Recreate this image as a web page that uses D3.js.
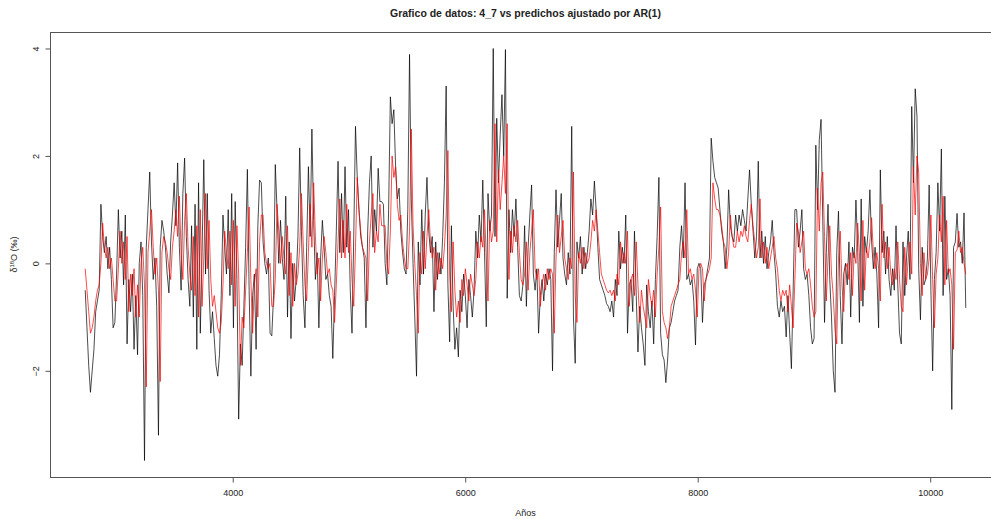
<!DOCTYPE html>
<meta charset="utf-8">
<style>
  body { margin: 0; background: #fff; }
  text { font-family: "Liberation Sans", Arial, sans-serif; fill: #222; }
  .serie { fill: none; stroke-width: 0.7px; stroke-linejoin: round; }
</style>
<body>
<div id="grafico"></div>
<script src="https://d3js.org/d3.v7.min.js"></script>
<script>
// años: serie regular desde 2731, cada 15 años
var anioInicio = 2731, paso = 15;

// datos observados del registro 4_7 (d18O, permil)
var observado = [
  -0.5,-1.2,-1.9,-2.4,-2.0,-1.6,-0.9,-0.7,-0.5,1.1,
  0.5,0.2,0.5,-0.1,0.3,-0.3,-1.2,-1.1,-0.2,1.0,
  0.1,0.6,-0.4,0.9,-1.5,-0.3,-0.9,-0.2,-1.6,-0.6,
  -1.7,0.0,0.4,-0.6,-3.67,0.3,1.0,1.7,0.4,-0.3,
  0.1,-0.8,-3.2,0.3,0.8,0.6,0.3,-0.2,-0.55,0.4,
  0.9,1.5,0.7,1.87,0.3,-0.5,1.3,1.96,0.5,-0.3,
  -0.8,0.7,-1.0,1.1,-1.6,1.5,-1.3,0.2,1.93,-0.2,
  1.3,-0.5,-1.3,-0.9,-1.4,-1.9,-2.1,-1.7,-0.6,0.9,
  0.3,-0.2,1.0,-0.6,1.3,-1.2,1.15,-0.3,-2.9,
  -1.5,-1.9,-0.8,0.3,1.75,-0.5,-2.1,-0.6,-0.2,-1.6,
  0.7,1.55,1.5,0.4,0.0,-0.2,0.1,-1.3,-1.35,-0.6,
  1.84,1.0,0.0,0.8,0.1,-0.3,1.25,-1.0,0.4,-1.4,
  0.0,-0.7,-0.3,0.5,2.15,0.6,-0.6,-1.2,0.3,1.8,
  0.5,2.5,0.8,-0.3,0.2,-1.2,0.1,0.8,0.3,-0.3,
  -0.2,-0.6,-0.8,-1.77,-0.6,0.6,1.9,0.2,1.3,0.2,
  1.8,0.3,1.0,-0.5,-1.3,0.5,2.55,1.6,1.0,0.5,
  0.3,0.1,-1.2,0.6,1.5,2.0,0.3,1.0,0.6,1.77,
  1.15,1.15,1.1,0.0,-0.4,1.0,3.1,2.6,2.86,1.8,
  1.2,1.4,0.6,0.2,-0.1,-0.2,1.0,3.89,1.2,0.0,
  -1.0,-2.1,0.4,-0.4,1.0,-0.2,0.9,
  1.6,0.6,0.2,0.5,-0.9,0.4,-0.3,0.2,-0.2,0.5,
  1.5,3.3,-0.4,-1.46,0.7,-0.8,-1.6,-1.2,-1.74,-0.5,
  -0.9,-0.2,-0.6,-1.2,-0.3,-0.6,-1.0,-0.5,0.6,0.1,
  0.9,0.4,1.55,0.2,-1.18,1.3,0.6,0.9,4.0,0.5,
  2.7,1.5,2.4,3.14,2.0,3.98,-0.65,1.0,0.2,1.0,
  0.5,1.2,0.3,-0.6,-0.7,-0.4,0.7,-0.8,0.3,0.9,
  1.46,-0.2,-0.5,-0.1,-1.3,-0.6,-0.3,-0.7,-0.2,-0.4,
  -0.1,-0.3,-2.0,0.2,1.37,0.3,0.8,1.3,0.1,-0.2,
  -0.4,0.2,-0.2,2.55,-1.0,-1.86,0.4,0.1,0.5,-0.2,
  0.3,-0.1,0.2,0.6,1.2,0.9,1.53,1.0,0.3,-0.3,
  -0.4,-0.5,-0.6,-0.75,-0.8,
  -0.9,-0.7,-1.0,-0.3,-0.6,0.6,-0.1,0.3,0.0,0.9,
  -1.3,-0.4,-0.3,-0.9,0.6,-0.6,-1.65,-0.8,-1.2,-1.5,
  -1.9,-0.4,-0.9,-1.2,-0.7,-1.5,-0.3,0.5,1.6,-1.3,
  -1.7,-1.8,-2.22,-1.8,-1.2,-1.1,-0.9,-0.7,-0.6,-0.5,
  0.3,0.7,0.1,1.5,-0.3,-0.2,-0.4,-0.3,-0.7,-1.52,
  -0.1,0.0,-0.1,-1.1,-0.4,-0.3,-0.1,0.1,2.33,1.9,
  1.6,1.5,1.4,1.0,0.6,0.4,-0.1,0.3,1.37,0.7,
  0.5,0.4,0.9,0.6,0.9,0.7,1.0,0.8,0.6,1.2,
  1.74,1.1,0.6,0.1,0.5,1.9,0.1,0.6,0.0,0.5,
  -0.1,0.2,0.4,0.8,0.2,-0.2,-0.8,-1.0,-0.7,-0.9,
  -0.8,-1.37,-0.6,-1.3,-1.96,-0.5,1.0,
  1.0,0.3,0.6,1.0,-0.1,-0.3,-0.2,-0.6,-1.2,-1.5,
  -1.4,2.2,1.0,2.3,2.68,0.8,-1.1,0.2,1.1,-0.3,
  -1.0,-2.0,-2.4,0.2,0.97,-0.6,-1.5,-0.2,0.0,-0.4,
  0.4,-1.0,0.3,0.1,1.18,0.3,-1.1,1.2,-0.8,0.5,
  0.2,0.6,1.37,0.4,-0.1,0.3,-0.2,-1.2,1.74,0.2,
  0.6,-0.2,0.5,-0.3,-0.6,-0.1,-0.5,0.7,-0.4,-1.3,
  -1.5,0.4,-0.6,0.1,0.6,-0.3,2.92,1.5,3.25,2.74,
  -0.1,-1.05,0.3,-0.4,-0.3,0.1,1.46,-0.5,-2.0,-0.3,
  0.2,1.5,0.6,2.13,-0.6,1.25,-0.3,-0.1,-0.6,-2.72,
  0.3,0.4,0.93,0.3,0.4,0.0,0.94,-0.83
];

// valores predichos por el modelo AR(1)
var predicho = [
  -0.1,-0.5,-0.9,-1.3,-1.2,-1.0,-0.7,-0.5,-0.4,0.0,
  0.75,0.3,0.1,0.3,-0.1,0.1,-0.3,-0.7,-0.7,-0.1,
  0.6,0.0,0.4,-0.3,0.5,-0.9,-0.2,-0.6,-0.1,-1.0,
  -0.4,-1.0,0.0,0.3,-0.4,-2.3,0.2,0.6,1.0,0.3,
  -0.2,0.1,-0.5,-2.2,0.2,0.5,0.4,0.2,-0.1,-0.3,
  0.3,0.6,1.0,0.5,1.25,0.2,-0.3,0.8,1.3,0.3,
  -0.2,-0.5,0.5,-0.6,0.7,-1.0,1.0,-0.8,0.1,1.3,
  -0.1,0.8,-0.3,-0.8,-0.6,-0.9,-1.2,-1.3,-1.1,-0.4,
  0.6,0.2,-0.1,0.6,-0.4,0.8,-0.8,0.7,-0.2,
  -1.9,-1.0,-1.2,-0.5,0.2,1.05,-0.3,-1.3,-0.4,-0.1,
  -1.0,0.4,0.9,0.9,0.2,0.0,-0.1,0.0,-0.8,-0.8,
  -0.3,1.1,0.6,0.0,0.5,0.1,-0.2,0.7,-0.6,0.2,
  -0.8,0.0,-0.4,-0.2,0.3,1.3,0.4,-0.4,-0.7,0.2,
  1.1,0.3,1.5,0.5,-0.2,0.1,-0.7,0.1,0.5,0.2,
  -0.2,-0.1,-0.4,-0.5,-1.1,-0.4,0.4,1.2,0.1,0.8,
  0.1,1.1,0.2,0.6,-0.3,-0.8,0.3,1.6,1.0,0.6,
  0.3,0.2,0.1,-0.7,0.4,0.9,1.3,0.2,0.6,0.4,
  1.1,0.7,0.7,0.7,0.0,-0.2,0.6,2.0,1.6,1.8,
  1.1,0.8,0.9,0.4,0.1,-0.1,-0.1,0.6,2.5,0.7,
  0.0,-0.6,-1.3,0.2,-0.2,0.6,-0.1,
  0.5,1.0,0.4,0.1,0.3,-0.5,0.2,-0.2,0.1,-0.1,
  0.3,0.9,2.1,-0.2,-0.9,0.4,-0.5,-1.0,-0.7,-1.1,
  -0.3,-0.6,-0.1,-0.4,-0.7,-0.2,-0.4,-0.6,-0.3,0.4,
  0.1,0.5,0.3,1.0,0.1,-0.7,0.8,0.4,0.6,2.6,
  0.4,1.75,1.0,1.5,2.0,1.3,2.6,-0.3,0.6,0.2,
  0.7,0.4,0.8,0.2,-0.3,-0.4,-0.2,0.4,-0.5,0.2,
  0.6,1.0,-0.1,-0.3,-0.1,-0.8,-0.4,-0.2,-0.5,-0.1,
  -0.3,-0.1,-0.2,-1.3,0.1,0.9,0.2,0.5,0.8,0.1,
  -0.1,-0.3,0.1,-0.1,1.7,-0.6,-1.1,0.2,0.0,0.3,
  -0.1,0.2,0.0,0.1,0.4,0.8,0.6,1.0,0.6,0.2,
  -0.2,-0.3,-0.4,-0.5,-0.55,
  -0.5,-0.6,-0.5,-0.7,-0.2,-0.4,0.4,0.0,0.2,0.0,
  0.6,-0.8,-0.3,-0.2,-0.6,0.4,-0.4,-1.1,-0.5,-0.8,
  -1.0,-1.2,-0.3,-0.6,-0.8,-0.5,-1.0,-0.2,0.3,1.05,
  -0.9,-1.1,-1.2,-1.4,-1.2,-0.8,-0.7,-0.6,-0.5,-0.4,
  -0.3,0.2,0.4,0.1,1.0,-0.2,-0.1,-0.3,-0.2,-0.5,
  -1.0,-0.1,0.0,-0.1,-0.7,-0.3,-0.2,-0.1,0.1,1.5,
  1.2,1.0,1.0,0.9,0.7,0.4,0.3,-0.1,0.2,0.9,
  0.5,0.3,0.3,0.6,0.4,0.6,0.5,0.7,0.5,0.4,
  0.8,1.1,0.7,0.4,0.1,0.3,1.2,0.1,0.4,0.0,
  0.3,-0.1,0.1,0.3,0.5,0.1,-0.1,-0.5,-0.7,-0.5,
  -0.6,-0.5,-0.9,-0.4,-0.8,-1.2,-0.3,
  0.75,0.6,0.2,0.4,0.6,-0.1,-0.2,-0.1,-0.4,-0.8,
  -1.0,-0.9,1.4,0.6,1.5,1.7,0.5,-0.7,0.1,0.7,
  -0.2,-0.6,-1.25,-1.5,0.1,0.6,-0.4,-0.9,-0.1,0.0,
  -0.3,0.2,-0.6,0.2,0.0,0.75,0.2,-0.7,0.8,-0.5,
  0.3,0.1,0.4,0.85,0.2,-0.1,0.2,-0.1,-0.7,1.1,
  0.1,0.4,-0.1,0.3,-0.2,-0.4,-0.1,-0.3,0.4,-0.3,
  -0.8,-0.9,0.3,-0.4,0.1,0.4,-0.2,1.8,0.9,2.0,
  1.7,0.0,-0.6,0.2,-0.3,-0.2,0.1,0.9,-0.3,-1.2,
  -0.2,0.1,0.9,0.4,1.25,-0.4,0.8,-0.2,-0.1,-0.4,
  -1.6,0.2,0.25,0.6,0.2,0.3,0.0,-0.2
];

var marcasX = [4000, 6000, 8000, 10000];
var marcasY = [-2, 0, 2, 4];

var W = 991, H = 519;
var margin = { top: 32, right: -10, bottom: 42, left: 50 };

var anios = observado.map(function (d, i) { return anioInicio + i * paso; });

// rango con 4% extra a cada lado, como plot() de R
function extender(ext) {
  var r = ext[1] - ext[0];
  return [ext[0] - 0.04 * r, ext[1] + 0.04 * r];
}

var x = d3.scaleLinear()
  .domain(extender(d3.extent(anios)))
  .range([margin.left, W - margin.right]);
var y = d3.scaleLinear()
  .domain(extender(d3.extent(observado)))
  .range([H - margin.bottom, margin.top]);

var svg = d3.select("#grafico").append("svg")
  .attr("width", W)
  .attr("height", H);

svg.append("rect").attr("width", W).attr("height", H).attr("fill", "#fff");

var linea = d3.line()
  .x(function (d, i) { return x(anios[i]); })
  .y(function (d) { return y(d); });

svg.append("path")
  .datum(observado)
  .attr("class", "serie")
  .attr("stroke", "#000")
  .attr("d", linea);

svg.append("path")
  .datum(predicho)
  .attr("class", "serie")
  .attr("stroke", "#ff0000")
  .attr("d", linea);

// caja del grafico
svg.append("rect")
  .attr("x", margin.left + 0.5)
  .attr("y", margin.top + 0.5)
  .attr("width", W - margin.right - margin.left)
  .attr("height", H - margin.bottom - margin.top)
  .attr("fill", "none")
  .attr("stroke", "#555");

// eje x
var ejeX = svg.append("g")
  .attr("transform", "translate(0," + (H - margin.bottom + 0.5) + ")")
  .call(d3.axisBottom(x).tickValues(marcasX).tickSize(5).tickPadding(7).tickFormat(d3.format("d")));
ejeX.select(".domain").remove();
ejeX.selectAll("line").attr("stroke", "#555");
ejeX.selectAll("text").attr("font-size", "9px").attr("font-family", null).attr("fill", "#222");

// eje y, etiquetas giradas
var ejeY = svg.append("g")
  .attr("transform", "translate(" + (margin.left + 0.5) + ",0)")
  .call(d3.axisLeft(y).tickValues(marcasY).tickSize(5).tickFormat(d3.format("d")));
ejeY.select(".domain").remove();
ejeY.selectAll("line").attr("stroke", "#555");
ejeY.selectAll("text")
  .attr("x", null).attr("dy", null)
  .attr("text-anchor", "middle")
  .attr("transform", "translate(-12,0) rotate(-90)")
  .attr("font-size", "9px").attr("font-family", null).attr("fill", "#222");

// titulo y nombres de ejes
svg.append("text")
  .attr("x", (margin.left + W - margin.right) / 2)
  .attr("y", 17)
  .attr("text-anchor", "middle")
  .attr("font-size", "10.5px")
  .attr("font-weight", "bold")
  .text("Grafico de datos: 4_7 vs predichos ajustado por AR(1)");

svg.append("text")
  .attr("x", (margin.left + W - margin.right) / 2)
  .attr("y", 516)
  .attr("text-anchor", "middle")
  .attr("font-size", "9px")
  .text("Años");

var etiquetaY = svg.append("text")
  .attr("transform", "translate(16.5," + ((margin.top + H - margin.bottom) / 2) + ") rotate(-90)")
  .attr("text-anchor", "middle")
  .attr("font-size", "9px");
etiquetaY.append("tspan").text("δ");
etiquetaY.append("tspan").attr("font-size", "6px").attr("dy", "-3").text("18");
etiquetaY.append("tspan").attr("dy", "3").text("O (‰)");
</script>
</body>
